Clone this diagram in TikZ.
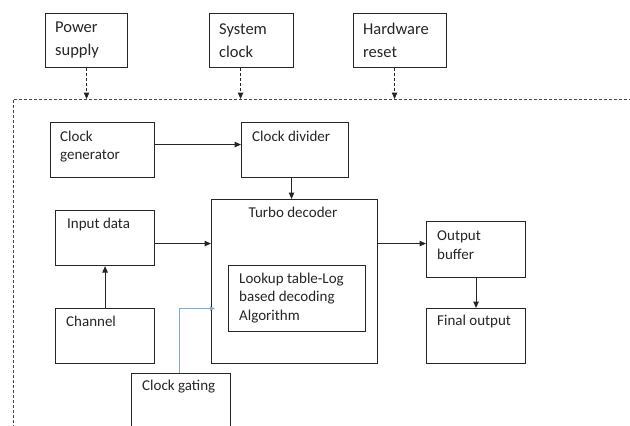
\documentclass[tikz,border=0pt]{standalone}
\usepackage{fontspec}
\setmainfont{Carlito}
\usetikzlibrary{arrows.meta}
\definecolor{ink}{HTML}{262626}
\definecolor{gline}{HTML}{7FA6D4}
\begin{document}
\begin{tikzpicture}[x=1pt,y=-1pt,
  box/.style={draw=ink, line width=1.1pt, inner sep=0pt, anchor=north west},
  lbl/.style={anchor=west, inner sep=0pt, align=left, text=ink, font=\fontsize{15}{18.5}\selectfont},
  toplbl/.style={anchor=west, inner sep=0pt, align=left, text=ink, font=\fontsize{16.5}{23}\selectfont},
  conn/.style={draw=ink, line width=1.1pt, -{Triangle[length=6.5pt,width=5.5pt]}},
  dconn/.style={draw=ink, line width=1pt, dash pattern=on 3pt off 2pt, -{Triangle[length=6.5pt,width=5.5pt]}},
  border/.style={draw=ink!85, line width=1pt, dash pattern=on 3pt off 2pt},
  gconn/.style={draw=gline, line width=1.2pt, -{Triangle[length=5pt,width=4pt]}}
]
\clip (0,0) rectangle (630,426);
\fill[white] (0,0) rectangle (630,426);

% top boxes
\node[box, minimum width=82pt, minimum height=54pt] (ps) at (45,13) {};
\node[box, minimum width=84pt, minimum height=54pt] (sc) at (209,13) {};
\node[box, minimum width=93pt, minimum height=54pt] (hr) at (353,13) {};
\node[toplbl] (tps) at (55,40.5) {Power\\supply};
\node[toplbl] (tsc) at (219,40.5) {System\\clock};
\node[toplbl] (thr) at (363,40.5) {Hardware\\reset};

% dashed border
\coordinate (btop) at (13,99);
\coordinate (bright) at (632,99);
\coordinate (bbot) at (13,430);
\draw[border] (bright) -- (btop) -- (bbot);

\draw[dconn] (ps.south) -- (ps.south |- btop);
\draw[dconn] ([xshift=-11pt]sc.south) -- ([xshift=-11pt]sc.south |- btop);
\draw[dconn] ([xshift=-5.5pt]hr.south) -- ([xshift=-5.5pt]hr.south |- btop);

% inner boxes
\node[box, minimum width=104pt, minimum height=55pt] (cg) at (50,122) {};
\node[box, minimum width=107pt, minimum height=55pt] (cd) at (241,122) {};
\node[box, minimum width=166pt, minimum height=164pt] (td) at (211,199) {};
\node[box, minimum width=99pt, minimum height=55pt] (in) at (55,210) {};
\node[box, minimum width=99pt, minimum height=55pt] (ch) at (55,308) {};
\node[box, minimum width=137pt, minimum height=66pt] (lt) at (228,265) {};
\node[box, minimum width=99pt, minimum height=62pt] (cgt) at (131,373) {};
\node[box, minimum width=99pt, minimum height=56pt] (ob) at (426,221) {};
\node[box, minimum width=99pt, minimum height=55pt] (fo) at (426,308) {};

% labels
\node[lbl] (tcg) at (60,146.5) {Clock\\generator};
\node[lbl] (tcd) at (252,136) {Clock divider};
\node[lbl, anchor=center] (ttd) at (293,212) {Turbo decoder};
\node[lbl] (tin) at (67,224) {Input data};
\node[lbl] (tch) at (66,321) {Channel};
\node[lbl] (tlt) at (239,298) {Lookup table-Log\\based decoding\\Algorithm};
\node[lbl] (tcgt) at (142,387) {Clock gating};
\node[lbl] (tob) at (437,245) {Output\\buffer};
\node[lbl] (tfo) at (437,321) {Final output};

% connectors
\draw[conn] ([yshift=5.5pt]cg.east) -- ([yshift=5.5pt]cg.east -| cd.west);
\draw[conn] ([xshift=-3.5pt]cd.south) -- ([xshift=-3.5pt]cd.south |- td.north);
\draw[conn] ([yshift=-5.5pt]in.east) -- ([yshift=-5.5pt]in.east -| td.west);
\draw[conn] (ch.north) -- (in.south);
\draw[conn] ([yshift=6pt]ob.west -| td.east) -- ([yshift=6pt]ob.west);
\draw[conn] (ob.south) -- (fo.north);
\draw[gconn] ([xshift=-1.5pt]cgt.north) |- ([yshift=-27pt,xshift=4pt]td.west);
\end{tikzpicture}
\end{document}
